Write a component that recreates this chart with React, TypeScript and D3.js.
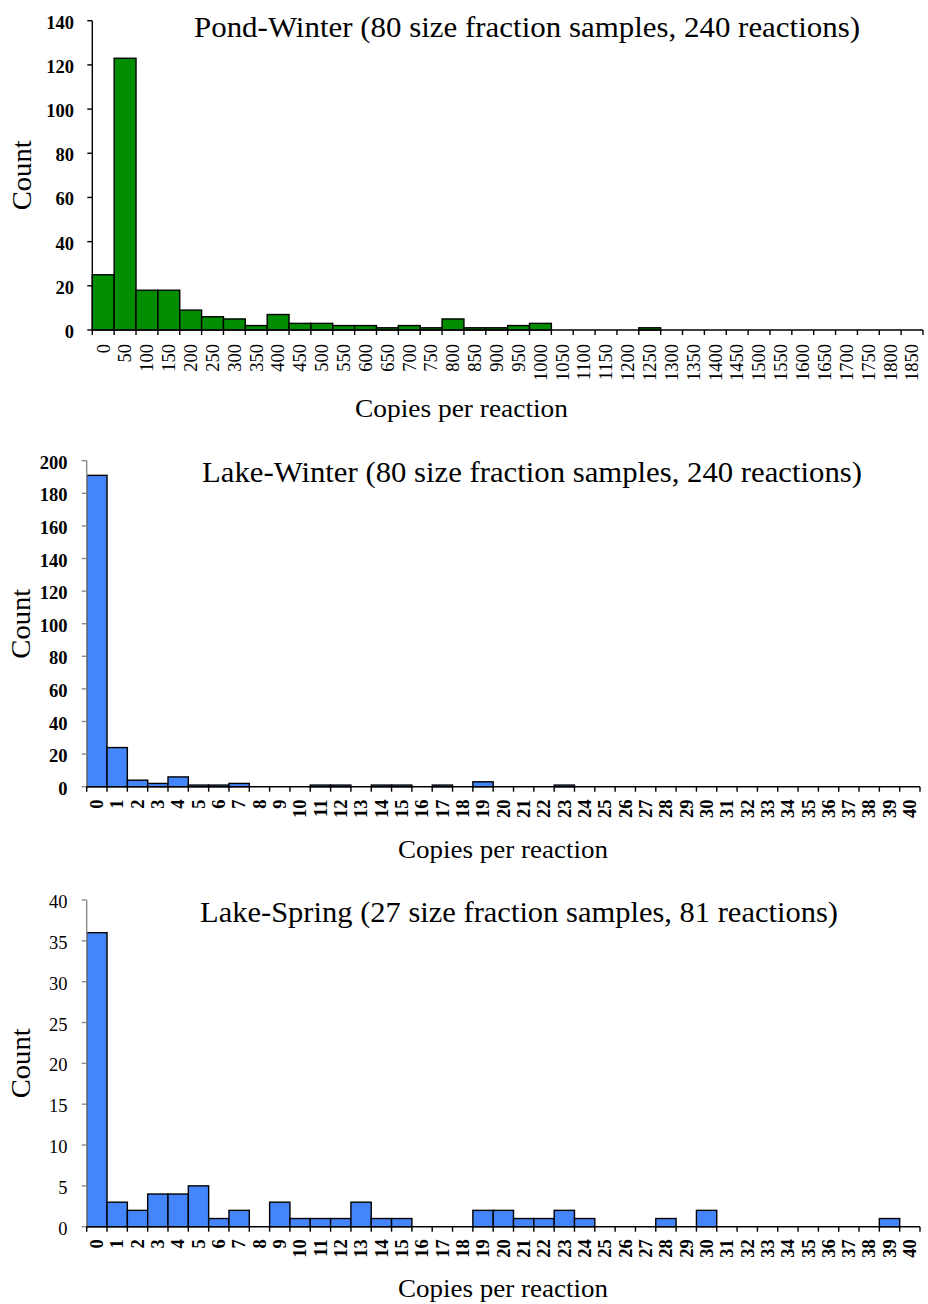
import React from "react";
import * as d3 from "d3";

const pondCategories = ["0","50","100","150","200","250","300","350","400","450","500","550","600","650","700","750","800","850","900","950","1000","1050","1100","1150","1200","1250","1300","1350","1400","1450","1500","1550","1600","1650","1700","1750","1800","1850"];
const pondCounts = [25,123,18,18,9,6,5,2,7,3,3,2,2,1,2,1,5,1,1,2,3,0,0,0,0,1,0,0,0,0,0,0,0,0,0,0,0,0];
const pondYTicks = [0,20,40,60,80,100,120,140];

const lakeCategories = ["0","1","2","3","4","5","6","7","8","9","10","11","12","13","14","15","16","17","18","19","20","21","22","23","24","25","26","27","28","29","30","31","32","33","34","35","36","37","38","39","40"];
const lakeWinterCounts = [191,24,4,2,6,1,1,2,0,0,0,1,1,0,1,1,0,1,0,3,0,0,0,1,0,0,0,0,0,0,0,0,0,0,0,0,0,0,0,0,0];
const lakeWinterYTicks = [0,20,40,60,80,100,120,140,160,180,200];

const lakeSpringCounts = [36,3,2,4,4,5,1,2,0,3,1,1,1,3,1,1,0,0,0,2,2,1,1,2,1,0,0,0,1,0,2,0,0,0,0,0,0,0,0,1,0];
const lakeSpringYTicks = [0,5,10,15,20,25,30,35,40];

const FONT = "'Liberation Serif', 'DejaVu Serif', serif";

type PanelProps = {
  title: string;
  titleX: number; titleY: number; titleLen: number;
  categories: string[];
  counts: number[];
  yTicks: number[];
  x0: number; x1: number; y0: number; yTop: number;
  fill: string;
  yAxisColor: string;
  yLabelWeight: string;
  xLabelWeight: string;
  xLabelSize: number;
  xLabelTop: number;
  yLabelRight: number;
  xTitleX: number; xTitleY: number; xTitleLen: number;
  countX: number;
};

function Panel(p: PanelProps) {
  const x = d3.scaleBand<string>().domain(p.categories).range([p.x0, p.x1]).paddingInner(0).paddingOuter(0);
  const yMax = p.yTicks[p.yTicks.length - 1];
  const y = d3.scaleLinear().domain([0, yMax]).range([p.y0, p.yTop]);
  const bw = x.bandwidth();
  const boundaries = p.categories.map((c) => x(c) as number).concat([p.x1]);
  const midY = (p.y0 + p.yTop) / 2;
  return (
    <g>
      <text x={p.titleX} y={p.titleY} fontFamily={FONT} fontSize={29} textLength={p.titleLen} lengthAdjust="spacingAndGlyphs" fill="#000">{p.title}</text>
      {p.counts.map((v, i) =>
        v > 0 ? (
          <rect key={i} x={x(p.categories[i]) as number} y={y(v)} width={bw} height={p.y0 - y(v)} fill={p.fill} stroke="#000" strokeWidth={1.4} />
        ) : null
      )}
      <line x1={p.x0} x2={p.x0} y1={p.yTop} y2={p.y0} stroke={p.yAxisColor} strokeWidth={1.4} />
      {p.yTicks.map((t) => (
        <g key={t}>
          <line x1={p.x0 - 5} x2={p.x0} y1={y(t)} y2={y(t)} stroke={p.yAxisColor} strokeWidth={1.4} />
          <text x={p.yLabelRight} y={y(t) + 8} textAnchor="end" fontFamily={FONT} fontSize={18.5} fontWeight={p.yLabelWeight} fill="#000">{t}</text>
        </g>
      ))}
      <line x1={p.x0} x2={p.x1} y1={p.y0} y2={p.y0} stroke="#000" strokeWidth={1.6} />
      {boundaries.map((bx, i) => (
        <line key={i} x1={bx} x2={bx} y1={p.y0} y2={p.y0 + 5} stroke="#000" strokeWidth={1.4} />
      ))}
      {p.categories.map((c) => {
        const cx = (x(c) as number) + bw / 2;
        return (
          <text key={c} transform={`translate(${cx},${p.xLabelTop}) rotate(-90)`} textAnchor="end" dy="0.34em" fontFamily={FONT} fontSize={p.xLabelSize} fontWeight={p.xLabelWeight} fill="#000">{c}</text>
        );
      })}
      <text x={p.xTitleX} y={p.xTitleY} fontFamily={FONT} fontSize={25} textLength={p.xTitleLen} lengthAdjust="spacingAndGlyphs" fill="#000">Copies per reaction</text>
      <text transform={`translate(${p.countX},${midY}) rotate(-90)`} textAnchor="middle" fontFamily={FONT} fontSize={27} textLength={70} lengthAdjust="spacingAndGlyphs" fill="#000">Count</text>
    </g>
  );
}

export default function App() {
  return (
    <svg width={928} height={1304} viewBox="0 0 928 1304" style={{ position: "absolute", left: 0, top: 0, background: "#fff" }}>
      <rect x={0} y={0} width={928} height={1304} fill="#fff" />
      <Panel
        title="Pond-Winter (80 size fraction samples, 240 reactions)"
        titleX={194} titleY={36.5} titleLen={666}
        categories={pondCategories} counts={pondCounts} yTicks={pondYTicks}
        x0={92.3} x1={923} y0={330} yTop={20.7}
        fill="#008e00" yAxisColor="#000" yLabelWeight="bold" xLabelWeight="normal" xLabelSize={18.5}
        xLabelTop={344} yLabelRight={74}
        xTitleX={355} xTitleY={416.5} xTitleLen={213} countX={31}
      />
      <Panel
        title="Lake-Winter (80 size fraction samples, 240 reactions)"
        titleX={202} titleY={481.5} titleLen={660}
        categories={lakeCategories} counts={lakeWinterCounts} yTicks={lakeWinterYTicks}
        x0={86.7} x1={920} y0={786.7} yTop={460.7}
        fill="#4485fb" yAxisColor="#8c8c8c" yLabelWeight="bold" xLabelWeight="bold" xLabelSize={18.5}
        xLabelTop={799.5} yLabelRight={67.5}
        xTitleX={398} xTitleY={857.5} xTitleLen={210} countX={30}
      />
      <Panel
        title="Lake-Spring (27 size fraction samples, 81 reactions)"
        titleX={200} titleY={921.5} titleLen={638}
        categories={lakeCategories} counts={lakeSpringCounts} yTicks={lakeSpringYTicks}
        x0={86.7} x1={920} y0={1226.7} yTop={900}
        fill="#4485fb" yAxisColor="#8c8c8c" yLabelWeight="normal" xLabelWeight="bold" xLabelSize={18.5}
        xLabelTop={1239.3} yLabelRight={67.5}
        xTitleX={398} xTitleY={1296.5} xTitleLen={210} countX={30}
      />
    </svg>
  );
}
